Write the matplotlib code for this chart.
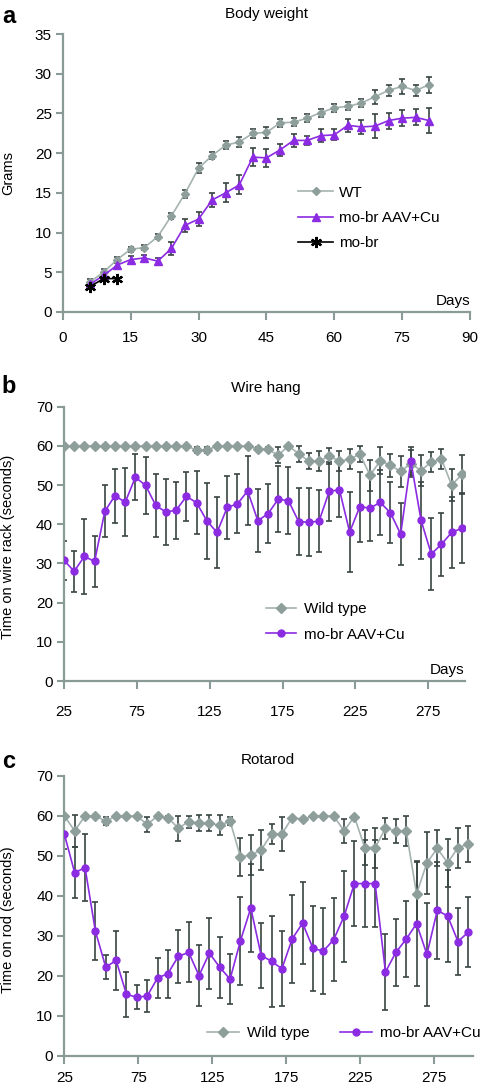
import matplotlib
matplotlib.use("Agg")
import matplotlib.pyplot as plt

plt.rcParams['font.family'] = ['Liberation Sans', 'DejaVu Sans']

# ---- Panel a: body weight ----
bw_days = [6, 9, 12, 15, 18, 21, 24, 27, 30, 33, 36, 39, 42, 45, 48, 51, 54,
           57, 60, 63, 66, 69, 72, 75, 78, 81]
bw_wt = [3.8, 5.0, 6.6, 7.9, 8.1, 9.5, 12.1, 14.9, 18.1, 19.7, 21.0, 21.4,
         22.5, 22.6, 23.8, 23.9, 24.4, 25.1, 25.7, 25.9, 26.3, 27.1, 27.9,
         28.4, 27.9, 28.6]
bw_wt_err = [0.3, 0.4, 0.3, 0.3, 0.3, 0.3, 0.4, 0.5, 0.6, 0.5, 0.5, 0.6, 0.6,
             0.7, 0.5, 0.5, 0.5, 0.5, 0.5, 0.5, 0.5, 0.9, 0.7, 0.9, 0.7, 1.0]
bw_aav = [3.5, 4.6, 5.9, 6.6, 6.8, 6.4, 8.0, 10.9, 11.7, 14.1, 15.0, 16.0,
          19.5, 19.4, 20.4, 21.6, 21.6, 22.2, 22.3, 23.5, 23.3, 23.4, 24.1,
          24.4, 24.5, 24.1]
bw_aav_err = [0.3, 0.4, 0.3, 0.4, 0.4, 0.4, 0.8, 0.8, 0.9, 0.9, 1.2, 1.2, 1.1,
              1.1, 0.7, 0.8, 0.6, 0.8, 0.7, 0.8, 0.9, 1.5, 1.0, 1.0, 1.0, 1.6]
bw_mobr_days = [6, 9, 12]
bw_mobr = [3.2, 4.2, 4.2]

# ---- Panels b and c share the same test days ----
test_days = [25, 32, 39, 46, 53, 60, 67, 74, 81, 88, 95, 102, 109, 116, 123,
             130, 137, 144, 151, 158, 165, 172, 179, 186, 193, 200, 207, 214,
             221, 228, 235, 242, 249, 256, 263, 270, 277, 284, 291, 298]

# ---- Panel b: wire hang ----
wh_wt = [60, 60, 60, 60, 60, 60, 60, 60, 60, 60, 60, 60, 60,
         58.9, 58.9, 60, 60, 60, 60, 59.3, 59.1, 57.6, 60, 58.0, 56.1, 56.1,
         57.4, 56.1, 56.6, 57.9, 52.5, 56.2, 55.0, 53.5, 55.5, 53.7, 55.9,
         56.6, 50.0, 52.7]
wh_wt_err = [0, 0, 0, 0, 0, 0, 0, 0, 0, 0, 0, 0, 0,
             0.8, 0.8, 0, 0, 0, 0, 0.5, 0.5, 2.0, 0, 2.0, 2.0, 2.5,
             2.0, 2.5, 2.5, 2.0, 4.0, 3.5, 3.0, 4.0, 3.5, 4.0, 2.5,
             2.5, 4.0, 5.0]
wh_aav = [30.8, 28.0, 31.8, 30.5, 43.3, 47.3, 45.6, 52.0, 49.9, 44.8, 43.1,
          43.6, 47.1, 45.5, 40.9, 37.9, 44.3, 45.2, 48.5, 40.9, 42.7, 46.4,
          46.0, 40.7, 40.5, 40.8, 48.4, 48.8, 38.0, 44.5, 44.1, 45.6, 42.9,
          37.5, 56.1, 41.0, 32.4, 34.9, 37.9, 39.0]
wh_aav_err = [5.0, 5.3, 9.5, 6.5, 6.6, 6.9, 8.7, 5.8, 7.2, 8.1, 8.4, 7.3, 6.3,
              8.0, 9.7, 9.0, 8.1, 7.5, 8.8, 8.0, 7.6, 8.5, 8.6, 8.5, 8.7, 7.9,
              7.5, 7.0, 10.2, 8.9, 8.3, 8.3, 7.8, 7.9, 3.5, 9.8, 9.3, 8.0,
              9.0, 9.0]

# ---- Panel c: rotarod ----
rr_wt = [60, 56.3, 60, 60, 58.7, 60, 60, 60, 57.9, 60, 59.6, 56.9, 58.6,
         58.2, 58.2, 57.7, 58.7, 49.8, 50.2, 51.5, 55.5, 55.5, 59.6, 59.2,
         60, 60, 60, 56.3, 59.8, 52.1, 52.1, 56.9, 56.3, 56.3, 40.5, 48.3,
         51.9, 48.3, 52.1, 53.0]
rr_wt_err = [0, 4.0, 0, 0, 1.0, 0, 0, 0, 1.8, 0, 0.5, 3.2, 1.5, 2.0, 2.0,
             2.5, 1.0, 4.7, 5.0, 5.0, 2.5, 4.3, 0, 0.3, 0, 0, 0, 3.0, 0,
             4.3, 5.0, 2.7, 3.0, 3.7, 8.0, 7.7, 4.5, 6.0, 5.0, 4.5]
rr_aav = [55.5, 45.8, 47.1, 31.2, 22.2, 23.9, 15.4, 14.7, 15.0, 19.5, 20.6,
          24.9, 25.9, 20.1, 25.7, 22.2, 19.2, 28.8, 37.0, 25.1, 23.7, 21.8,
          29.3, 33.2, 26.9, 26.2, 29.1, 34.9, 43.1, 43.1, 43.1, 21.0, 25.9,
          29.2, 33.1, 25.4, 36.4, 35.0, 28.6, 31.0]
rr_aav_err = [3.7, 6.4, 8.3, 7.2, 3.0, 7.4, 5.6, 3.0, 4.0, 5.0, 6.0, 6.7, 7.5,
              7.6, 8.9, 7.6, 6.3, 11.0, 11.0, 8.1, 11.4, 9.4, 11.0, 10.3,
              10.6, 10.7, 10.4, 11.3, 10.7, 10.8, 10.8, 9.4, 8.3, 9.5, 15.6,
              12.8, 12.2, 11.5, 8.3, 8.7]

wt_line = '#a4b3b0'
wt_mark = '#8e9e9a'
purple = '#8b2be2'
err_col = '#384442'
axis_col = '#8a9a97'

fig = plt.figure(figsize=(4.8, 10.9), dpi=100)
ax_a = fig.add_axes([0.131, 0.7138, 0.848, 0.2550])
ax_b = fig.add_axes([0.1333, 0.3752, 0.835, 0.2517])
ax_c = fig.add_axes([0.134, 0.0312, 0.851, 0.2569])


def style_axes(ax, xpad):
    for side in ['top', 'right']:
        ax.spines[side].set_visible(False)
    for side in ['left', 'bottom']:
        ax.spines[side].set_color(axis_col)
        ax.spines[side].set_linewidth(1.6)
    ax.tick_params(axis='both', colors=axis_col, labelcolor='black',
                   labelsize=11, width=1.5)
    ax.tick_params(axis='x', length=6, pad=xpad)
    ax.tick_params(axis='y', length=5, pad=3)


def draw_series(ax, x, y, err, color, mcolor, marker, ms, label):
    ax.errorbar(x, y, yerr=err, fmt='none', ecolor=err_col, elinewidth=1.2,
                capsize=2.3, capthick=1.2, zorder=2)
    ax.plot(x, y, color=color, lw=1.2, marker=marker, ms=ms,
            markerfacecolor=mcolor, markeredgecolor=mcolor, label=label,
            zorder=3)


# Panel a
draw_series(ax_a, bw_days, bw_wt, bw_wt_err, wt_line, wt_mark, 'D', 4, 'WT')
draw_series(ax_a, bw_days, bw_aav, bw_aav_err, purple, purple, '^', 6,
            'mo-br AAV+Cu')
ax_a.plot(bw_mobr_days, bw_mobr, color='black', lw=1.2, marker=(6, 2, 0),
          ms=8, markeredgewidth=1.6, label='mo-br', zorder=4)
ax_a.set_xlim(0, 90)
ax_a.set_ylim(0, 35)
ax_a.set_xticks([0, 15, 30, 45, 60, 75, 90])
ax_a.set_yticks([0, 5, 10, 15, 20, 25, 30, 35])
style_axes(ax_a, 8)
ax_a.legend(loc='center left', bbox_to_anchor=(0.621, 0.80),
            bbox_transform=fig.transFigure, frameon=False, fontsize=11,
            handlelength=2.3, handletextpad=0.4, labelspacing=0.75,
            borderpad=0, borderaxespad=0, numpoints=1)

# Panel b
draw_series(ax_b, test_days, wh_wt, wh_wt_err, wt_line, wt_mark, 'D', 5,
            'Wild type')
draw_series(ax_b, test_days, wh_aav, wh_aav_err, purple, purple, 'o', 5,
            'mo-br AAV+Cu')
ax_b.set_xlim(25, 300)
ax_b.set_ylim(0, 70)
ax_b.set_xticks([25, 75, 125, 175, 225, 275])
ax_b.set_yticks([0, 10, 20, 30, 40, 50, 60, 70])
style_axes(ax_b, 11)
ax_b.legend(loc='center left', bbox_to_anchor=(0.554, 0.4294),
            bbox_transform=fig.transFigure, frameon=False, fontsize=11,
            handlelength=2.0, handletextpad=0.5, labelspacing=0.75,
            borderpad=0, borderaxespad=0, numpoints=1)

# Panel c
draw_series(ax_c, test_days, rr_wt, rr_wt_err, wt_line, wt_mark, 'D', 5,
            'Wild type')
draw_series(ax_c, test_days, rr_aav, rr_aav_err, purple, purple, 'o', 5,
            'mo-br AAV+Cu')
ax_c.set_xlim(25, 301)
ax_c.set_ylim(0, 70)
ax_c.set_xticks([25, 75, 125, 175, 225, 275])
ax_c.set_yticks([0, 10, 20, 30, 40, 50, 60, 70])
style_axes(ax_c, 5)
ax_c.legend(loc='center left', bbox_to_anchor=(0.431, 0.0523),
            bbox_transform=fig.transFigure, frameon=False, fontsize=11,
            ncol=2, handlelength=2.1, handletextpad=0.5, columnspacing=2.0,
            borderpad=0, borderaxespad=0, numpoints=1)

# "Days" markers at the right end of the x axes
ax_a.text(1.0, 0.015, 'Days', transform=ax_a.transAxes, ha='right',
          va='bottom', fontsize=11)
ax_b.text(1.0, 0.015, 'Days', transform=ax_b.transAxes, ha='right',
          va='bottom', fontsize=11)

# Titles
fig.text(0.555, 0.987, 'Body weight', ha='center', va='center', fontsize=11)
fig.text(0.553, 0.644, 'Wire hang', ha='center', va='center', fontsize=11)
fig.text(0.558, 0.3028, 'Rotarod', ha='center', va='center', fontsize=11)

# Y labels
fig.text(0.017, 0.8413, 'Grams', rotation=90, ha='center', va='center',
         fontsize=10.5)
fig.text(0.017, 0.4982, 'Time on wire rack (seconds)', rotation=90,
         ha='center', va='center', fontsize=10.5)
fig.text(0.017, 0.156, 'Time on rod (seconds)', rotation=90, ha='center',
         va='center', fontsize=10.5)

# Panel letters
fig.text(0.004, 0.985, 'a', fontsize=17, fontweight='bold', ha='left',
         va='center')
fig.text(0.004, 0.645, 'b', fontsize=17, fontweight='bold', ha='left',
         va='center')
fig.text(0.004, 0.301, 'c', fontsize=17, fontweight='bold', ha='left',
         va='center')

fig.savefig('out.png', dpi=100)
